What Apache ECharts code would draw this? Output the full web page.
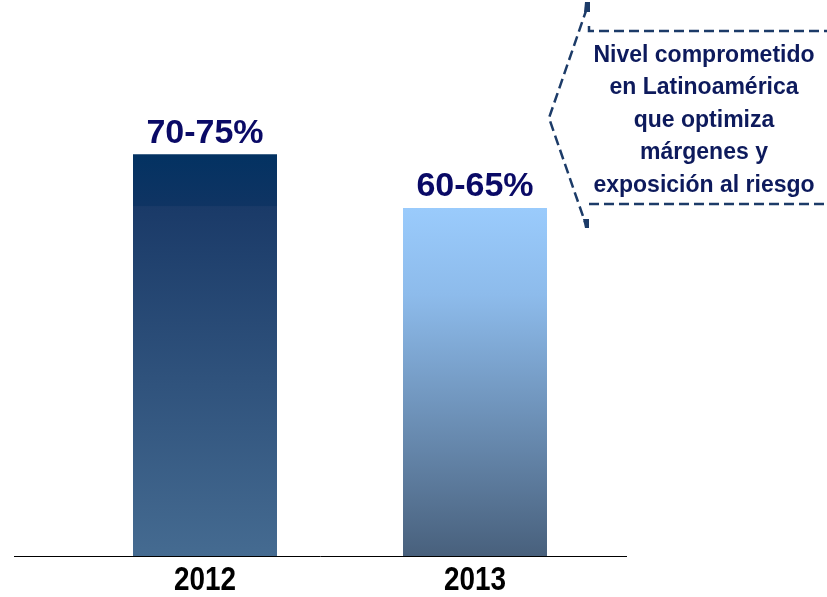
<!DOCTYPE html>
<html>
<head>
<meta charset="utf-8">
<script src="https://cdn.jsdelivr.net/npm/echarts@6/dist/echarts.min.js"></script>
<style>
  html, body { margin: 0; padding: 0; background: #fff; }
  #chart { width: 827px; height: 597px; }
</style>
</head>
<body>
<div id="chart"></div>
<script>
// Committed level by year (upper end of each range) and the range labels
var years = ['2012', '2013'];
var levels = [75, 65];
var rangeLabels = ['70-75%', '60-65%'];
var calloutLines = ['Nivel comprometido', 'en Latinoamérica', 'que optimiza', 'márgenes y', 'exposición al riesgo'];

var chart = echarts.init(document.getElementById('chart'));

var fills = [
  new echarts.graphic.LinearGradient(0, 0, 0, 1, [
    { offset: 0, color: '#033262' },
    { offset: 0.128, color: '#0f3463' },
    { offset: 0.13, color: '#1a3a68' },
    { offset: 1, color: '#456b91' }
  ]),
  new echarts.graphic.LinearGradient(0, 0, 0, 1, [
    { offset: 0, color: '#9acbfc' },
    { offset: 0.25, color: '#8dbbeb' },
    { offset: 1, color: '#48607c' }
  ])
];

var navy = '#1c3b68';
var dash = [10, 5];

// Baseline, dashed bracket with small arrow tips, and its caption
var decorations = [
  {
    type: 'line',
    z: 10,
    shape: { x1: 14, y1: 556.5, x2: 627, y2: 556.5 },
    style: { stroke: '#000', lineWidth: 1 }
  },
  {
    type: 'polyline',
    shape: { points: [[587, 8], [549, 118], [585, 222]] },
    style: { stroke: navy, lineWidth: 2.5, lineDash: dash, fill: null }
  },
  {
    type: 'polygon',
    shape: { points: [[585, 2], [590, 2], [590, 12], [584, 12]] },
    style: { fill: navy }
  },
  {
    type: 'polygon',
    shape: { points: [[583, 219], [589, 219], [589, 228], [585, 228]] },
    style: { fill: navy }
  },
  {
    type: 'polyline',
    shape: { points: [[589, 26], [589, 31], [827, 31]] },
    style: { stroke: navy, lineWidth: 2.5, lineDash: dash, fill: null }
  },
  {
    type: 'line',
    shape: { x1: 589, y1: 204, x2: 827, y2: 204 },
    style: { stroke: navy, lineWidth: 2.5, lineDash: dash }
  },
  {
    type: 'text',
    x: 704,
    y: 39,
    style: {
      text: calloutLines.join('\n'),
      align: 'center',
      verticalAlign: 'top',
      fill: '#0d1a5c',
      font: 'bold 23px "Liberation Sans", Arial, sans-serif',
      lineHeight: 32.5
    }
  }
];

chart.setOption({
  animation: false,
  grid: { left: 70, right: 217, top: 20, bottom: 40 },
  xAxis: {
    type: 'category',
    data: years,
    axisLine: { show: false },
    axisTick: { show: false },
    axisLabel: { show: false }
  },
  yAxis: {
    type: 'value',
    min: 0,
    max: 100,
    show: false,
    splitLine: { show: false }
  },
  series: [{
    type: 'bar',
    barWidth: 144,
    data: levels.map(function (v, i) {
      return { value: v, itemStyle: { color: fills[i] } };
    }),
    label: {
      show: true,
      position: 'top',
      distance: 4,
      color: '#0a0a66',
      fontFamily: '"Liberation Sans", Arial, sans-serif',
      fontWeight: 'bold',
      fontSize: 34,
      formatter: function (p) { return rangeLabels[p.dataIndex]; }
    }
  }],
  graphic: decorations
});

// Year captions in a condensed bold face, placed at each category's position
var yearTexts = years.map(function (y) {
  return {
    type: 'text',
    x: chart.convertToPixel({ xAxisIndex: 0 }, y),
    y: 581,
    scaleX: 0.82,
    style: {
      text: y,
      align: 'center',
      verticalAlign: 'middle',
      fill: '#000',
      font: 'bold 34px "Liberation Sans", Arial, sans-serif'
    }
  };
});

chart.setOption({ graphic: decorations.concat(yearTexts) });
</script>
</body>
</html>
